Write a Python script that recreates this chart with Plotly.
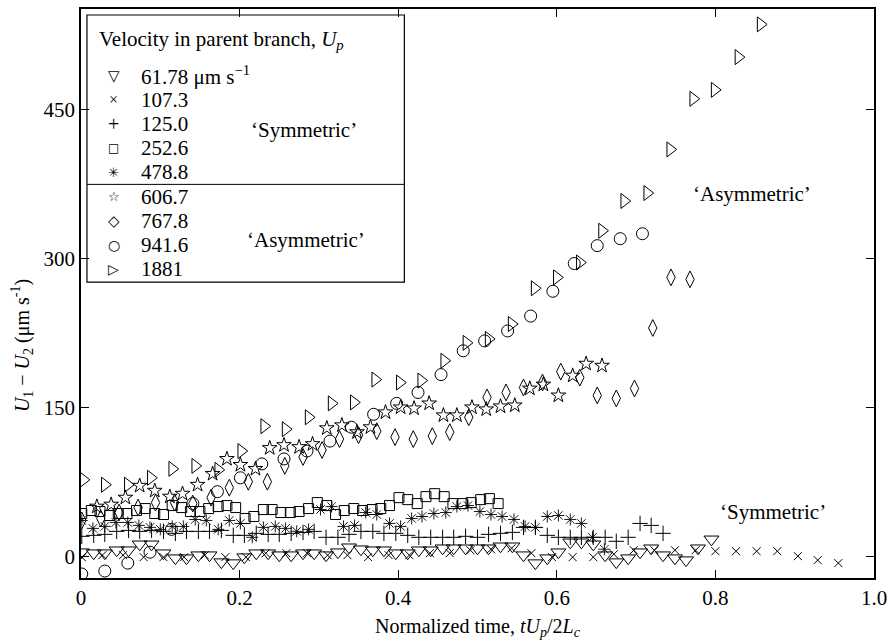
import plotly.graph_objects as go

# ---------------- data ----------------
series_names = ["61.78", "107.3", "125.0", "252.6", "478.8", "606.7", "767.8", "941.6", "1881"]
legend_labels = ["61.78 μm s<sup>−1</sup>", "107.3", "125.0", "252.6", "478.8",
                 "606.7", "767.8", "941.6", "1881"]

x_6178 = [0.001, 0.016, 0.030, 0.045, 0.060, 0.074, 0.089, 0.104, 0.119, 0.133,
          0.148, 0.162, 0.177, 0.192, 0.206, 0.221, 0.236, 0.250, 0.265, 0.280,
          0.294, 0.309, 0.324, 0.338, 0.353, 0.368, 0.382, 0.397, 0.412, 0.426,
          0.441, 0.456, 0.470, 0.485, 0.500, 0.514, 0.529, 0.544, 0.558, 0.573,
          0.588, 0.602, 0.617, 0.631, 0.646, 0.661, 0.675, 0.690, 0.705, 0.719,
          0.734, 0.749, 0.763, 0.778, 0.795]
y_6178 = [4, 3, 3, 6, 6, 12, 12, 3, -2, -2,
          1, 1, -6, -7, -1, 3, 3, 1, 1, 3,
          3, 1, 4, 9, 7, 6, 6, 3, 3, 6,
          6, 8, 8, 8, 8, 8, 10, 10, 1, -7,
          -2, 4, 14, 14, 12, 1, -6, -2, 4, 8,
          1, -2, -4, 8, 17]

x_1073 = [0.001, 0.027, 0.053, 0.079, 0.104, 0.130, 0.156, 0.182, 0.208, 0.233,
          0.259, 0.285, 0.311, 0.336, 0.362, 0.388, 0.414, 0.440, 0.465, 0.491,
          0.517, 0.543, 0.568, 0.594, 0.620, 0.646, 0.672, 0.697, 0.723, 0.749,
          0.775, 0.800, 0.826, 0.852, 0.878, 0.904, 0.929, 0.955]
y_1073 = [-1, 1, 1, -1, -1, -1, 1, -1, -1, 3,
          3, 3, 1, 1, -1, 1, 1, 3, 3, 6,
          7, 8, 3, -1, -1, -1, 2, 6, 6, 6,
          6, 5, 5, 5, 5, 0, -4, -7]

x_1250 = [0.001, 0.016, 0.030, 0.045, 0.060, 0.074, 0.089, 0.104, 0.119, 0.133,
          0.148, 0.162, 0.177, 0.192, 0.206, 0.221, 0.236, 0.250, 0.265, 0.280,
          0.294, 0.309, 0.324, 0.338, 0.353, 0.368, 0.382, 0.397, 0.412, 0.426,
          0.441, 0.456, 0.470, 0.485, 0.500, 0.514, 0.529, 0.544, 0.558, 0.573,
          0.588, 0.602, 0.617, 0.631, 0.646, 0.661, 0.675, 0.690, 0.705, 0.719,
          0.734]
y_1250 = [20, 21, 22, 25, 26, 25, 26, 25, 23, 25,
          25, 25, 26, 21, 21, 23, 22, 22, 23, 24,
          25, 19, 19, 22, 25, 25, 23, 23, 21, 19,
          19, 19, 19, 20, 19, 22, 23, 24, 29, 29,
          21, 19, 19, 19, 19, 19, 15, 19, 33, 31,
          23]

x_2526 = [0.001, 0.013, 0.024, 0.036, 0.047, 0.058, 0.070, 0.081, 0.093, 0.104,
          0.115, 0.127, 0.138, 0.150, 0.161, 0.173, 0.184, 0.195, 0.207, 0.218,
          0.230, 0.241, 0.252, 0.264, 0.275, 0.287, 0.298, 0.310, 0.321, 0.332,
          0.344, 0.355, 0.367, 0.378, 0.389, 0.401, 0.412, 0.424, 0.435, 0.446,
          0.458, 0.469, 0.481, 0.492, 0.504, 0.515, 0.526]
y_2526 = [43, 46, 45, 41, 43, 43, 46, 48, 43, 42,
          51, 49, 45, 45, 48, 50, 51, 49, 38, 40,
          47, 47, 44, 44, 45, 48, 54, 51, 42, 46,
          48, 46, 47, 48, 51, 59, 57, 53, 60, 63,
          60, 53, 53, 54, 57, 58, 53]

x_4788 = [0.001, 0.015, 0.030, 0.044, 0.059, 0.073, 0.087, 0.100, 0.115, 0.129,
          0.144, 0.158, 0.173, 0.187, 0.201, 0.216, 0.230, 0.245, 0.258, 0.272,
          0.287, 0.302, 0.316, 0.331, 0.345, 0.359, 0.373, 0.389, 0.403, 0.417,
          0.430, 0.445, 0.460, 0.474, 0.488, 0.503, 0.517, 0.531, 0.546, 0.560,
          0.573, 0.588, 0.602, 0.617, 0.631, 0.645, 0.660]
y_4788 = [36, 28, 30, 34, 34, 31, 29, 27, 30, 30,
          37, 36, 27, 36, 33, 19, 29, 30, 28, 25,
          27, 47, 50, 30, 31, 44, 42, 33, 30, 38,
          40, 43, 44, 50, 51, 45, 42, 40, 37, 30,
          29, 40, 41, 37, 33, 19, 7]

x_6067 = [0.020, 0.038, 0.056, 0.074, 0.093, 0.112, 0.128, 0.147, 0.166, 0.184,
          0.201, 0.220, 0.238, 0.256, 0.275, 0.292, 0.310, 0.329, 0.348, 0.365,
          0.384, 0.403, 0.420, 0.439, 0.457, 0.474, 0.493, 0.511, 0.529, 0.547,
          0.566, 0.583, 0.602, 0.620, 0.637, 0.657]
y_6067 = [50, 52, 59, 71, 66, 60, 63, 72, 83, 98,
          92, 88, 109, 112, 110, 113, 129, 132, 125, 130,
          145, 150, 149, 154, 142, 142, 150, 148, 151, 152,
          169, 173, 162, 182, 194, 192]

x_7678 = [0.001, 0.025, 0.048, 0.072, 0.094, 0.118, 0.141, 0.164, 0.187, 0.211,
          0.235, 0.257, 0.280, 0.304, 0.326, 0.350, 0.373, 0.396, 0.419, 0.443,
          0.465, 0.489, 0.512, 0.536, 0.558, 0.582, 0.605, 0.629, 0.651, 0.675,
          0.698, 0.721, 0.744, 0.768]
y_7678 = [36, 38, 44, 49, 54, 54, 53, 59, 69, 75,
          75, 91, 100, 107, 118, 122, 126, 120, 118, 121,
          125, 140, 160, 165, 170, 175, 186, 180, 162, 159,
          169, 230, 281, 279]

x_9416 = [0.001, 0.030, 0.059, 0.087, 0.114, 0.141, 0.172, 0.201, 0.228, 0.256,
          0.285, 0.314, 0.341, 0.369, 0.398, 0.425, 0.454, 0.482, 0.509, 0.538,
          0.567, 0.595, 0.622, 0.651, 0.680, 0.708]
y_9416 = [-18, -15, -7, 4, 27, 53, 65, 79, 93, 98,
          106, 116, 130, 143, 154, 165, 183, 207, 217, 227,
          242, 267, 295, 313, 320, 325]

x_1881 = [0.003, 0.030, 0.059, 0.088, 0.115, 0.144, 0.173, 0.202, 0.231, 0.258,
          0.287, 0.316, 0.344, 0.371, 0.402, 0.429, 0.458, 0.486, 0.514, 0.543,
          0.572, 0.600, 0.629, 0.657, 0.685, 0.714, 0.743, 0.772, 0.799, 0.829,
          0.857]
y_1881 = [77, 72, 72, 79, 88, 91, 87, 106, 131, 128,
          140, 154, 155, 178, 175, 177, 197, 215, 219, 234,
          270, 281, 296, 328, 358, 366, 410, 461, 470, 503,
          536]

x_ticks = [0, 0.2, 0.4, 0.6, 0.8, 1.0]
x_ticktext = ["0", "0.2", "0.4", "0.6", "0.8", "1.0"]
y_ticks = [0, 150, 300, 450]
y_ticktext = ["0", "150", "300", "450"]

# ---------------- styling ----------------
W, H = 894, 640
ML, MR, MT, MB = 81, 16, 7, 62
PW, PH = W - ML - MR, H - MT - MB
FONT = "Liberation Serif"
SYMFONT = "DejaVu Sans"


def px_x(px):
    return (px - ML) / PW


def px_y(py):
    return (H - MB - py) / PH


xs = [x_6178, x_1073, x_1250, x_2526, x_4788, x_6067, x_7678, x_9416, x_1881]
ys = [y_6178, y_1073, y_1250, y_2526, y_4788, y_6067, y_7678, y_9416, y_1881]
symbols = ["triangle-down-open", "x-thin-open", "cross-thin-open", "square-open",
           "asterisk-open", "star-open", "diamond-tall-open", "circle-open",
           "triangle-right-open"]
sizes = [13, 8, 11, 10, 10, 11, 12, 12, 13]
widths = [1, 1, 1, 1, 0.9, 1, 1, 1, 1]
legend_glyphs = ["▽", "×", "+", "□", "✳", "☆", "◇", "○", "▷"]
glyph_sizes = [15, 16, 20, 12, 13, 13, 15, 14, 14]
glyph_fonts = [SYMFONT, FONT, FONT, SYMFONT, SYMFONT, SYMFONT, SYMFONT, SYMFONT, SYMFONT]

fig = go.Figure()
for name, x, y, sym, sz, lw in zip(series_names, xs, ys, symbols, sizes, widths):
    fig.add_trace(go.Scatter(
        x=x, y=y, mode="markers", name=name, showlegend=False,
        marker=dict(symbol=sym, size=sz, color="black",
                    line=dict(color="black", width=lw)),
    ))

axis_common = dict(
    showline=True, mirror="ticks", linecolor="black", linewidth=1.5,
    ticks="inside", ticklen=8, tickwidth=1, tickcolor="black",
    showgrid=False, zeroline=False,
    tickfont=dict(family=FONT, size=21, color="black"),
)
fig.update_xaxes(range=[0, 1.0], tickvals=x_ticks, ticktext=x_ticktext, **axis_common)
fig.update_yaxes(range=[-22, 551.5], tickvals=y_ticks, ticktext=y_ticktext, **axis_common)

ann = []
# axis titles
ann.append(dict(text="Normalized time, <i>tU</i><sub><i>p</i></sub>/2<i>L</i><sub><i>c</i></sub>",
                x=0.5, y=px_y(628), xref="paper", yref="paper", showarrow=False,
                xanchor="center", yanchor="middle",
                font=dict(family=FONT, size=20, color="black")))
ann.append(dict(text="<i>U</i><sub>1</sub> − <i>U</i><sub>2</sub> (μm s<sup>-1</sup>)",
                x=px_x(22), y=px_y(345), xref="paper", yref="paper", showarrow=False,
                textangle=-90, xanchor="center", yanchor="middle",
                font=dict(family=FONT, size=20, color="black")))

# legend (drawn by hand, boxed)
ann.append(dict(text="Velocity in parent branch, <i>U</i><sub><i>p</i></sub>",
                x=px_x(97), y=px_y(38), xref="paper", yref="paper", showarrow=False,
                xanchor="left", yanchor="middle",
                font=dict(family=FONT, size=21, color="black")))
for k, (g, gs, gf, lab) in enumerate(zip(legend_glyphs, glyph_sizes, glyph_fonts, legend_labels)):
    yc = 74 + 24.25 * k
    ann.append(dict(text=g, x=px_x(114), y=px_y(yc), xref="paper", yref="paper",
                    showarrow=False, xanchor="center", yanchor="middle",
                    font=dict(family=gf, size=gs, color="black")))
    ann.append(dict(text=lab, x=px_x(139), y=px_y(yc), xref="paper", yref="paper",
                    showarrow=False, xanchor="left", yanchor="middle",
                    font=dict(family=FONT, size=21, color="black")))

group_notes = [("‘Symmetric’", 305, 128), ("‘Asymmetric’", 307, 239),
               ("‘Asymmetric’", 755, 193), ("‘Symmetric’", 776, 512)]
for t, cx, cy in group_notes:
    ann.append(dict(text=t, x=px_x(cx), y=px_y(cy), xref="paper", yref="paper",
                    showarrow=False, xanchor="center", yanchor="middle",
                    font=dict(family=FONT, size=21, color="black")))

shapes = [
    dict(type="rect", xref="paper", yref="paper",
         x0=px_x(87), x1=px_x(406), y0=px_y(281), y1=px_y(13),
         line=dict(color="black", width=1.2), fillcolor="rgba(0,0,0,0)"),
    dict(type="line", xref="paper", yref="paper",
         x0=px_x(87), x1=px_x(406), y0=px_y(183), y1=px_y(183),
         line=dict(color="black", width=1)),
]

fig.update_layout(
    width=W, height=H,
    margin=dict(l=ML, r=MR, t=MT, b=MB, pad=0),
    paper_bgcolor="white", plot_bgcolor="white",
    font=dict(family=FONT, size=21, color="black"),
    annotations=ann, shapes=shapes, showlegend=False,
)

fig.write_html("out.html", config={"displayModeBar": False},
               post_script="document.body.style.margin='0';")
